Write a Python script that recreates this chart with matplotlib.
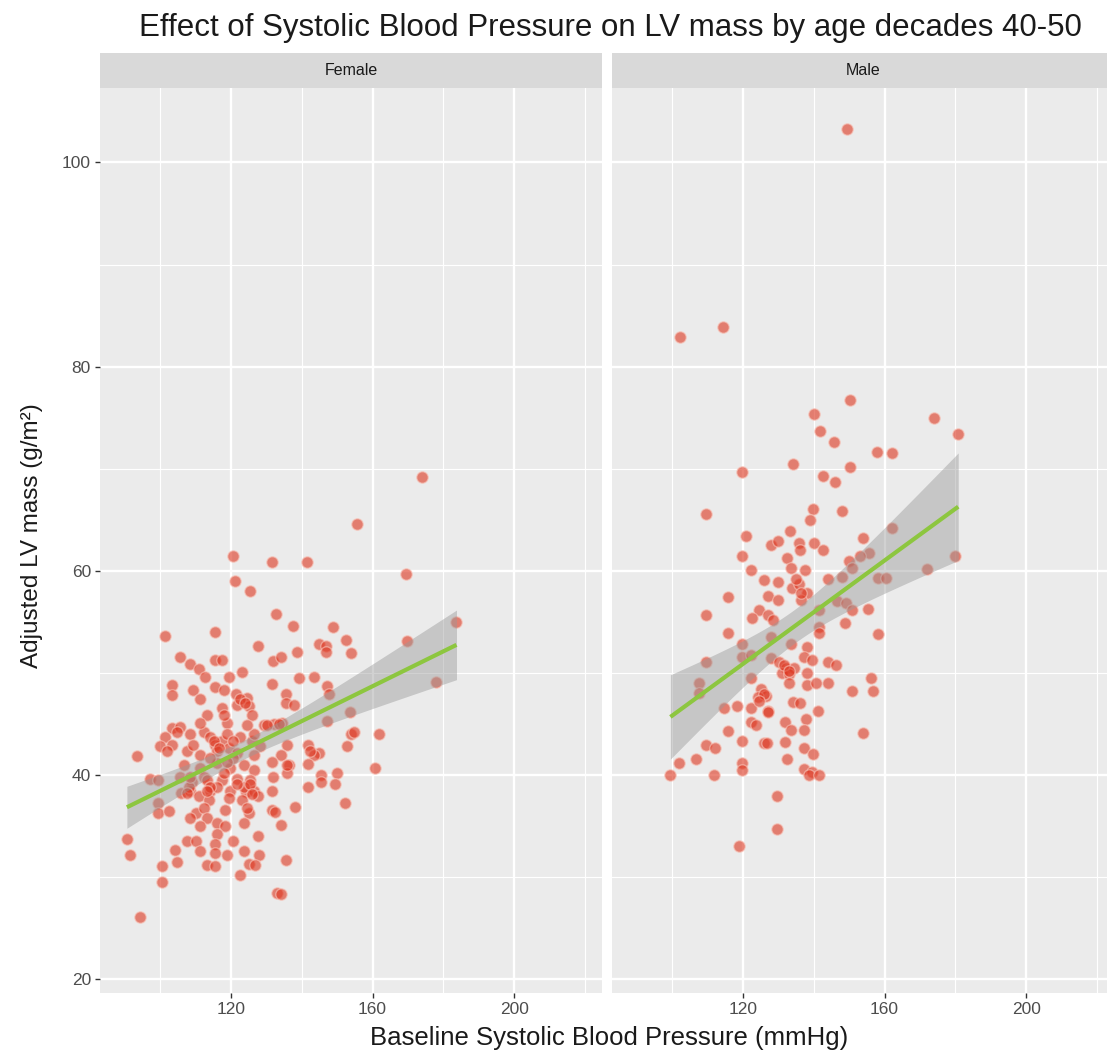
import numpy as np
import matplotlib
matplotlib.use("Agg")
import matplotlib.pyplot as plt
from matplotlib.ticker import FixedLocator

plt.rcParams['font.family'] = ['Liberation Sans', 'DejaVu Sans']

# ---------------- data ----------------
title = "Effect of Systolic Blood Pressure on LV mass by age decades 40-50"
panels = ["Female", "Male"]
x_label = "Baseline Systolic Blood Pressure (mmHg)"
y_label = "Adjusted LV mass (g/m²)"
x_ticks = [120, 160, 200]
y_ticks = [20, 40, 60, 80, 100]

female_sbp = [174, 155.5, 120.6, 131.6, 141.5, 169.5, 121.2, 125.5, 132.7, 137.5, 148.8, 183.7, 101.5, 115.6,
              127.5, 152.6, 145, 146.8, 169.6, 154, 146.8, 177.8, 105.7, 108.3, 111, 115.6, 117.5, 123.1, 131.9,
              134, 138.7, 119.3, 112.7, 139.3, 143.4, 131.6, 103.3, 103.3, 109.4, 115.6, 118, 121.5, 124.5, 135.4,
              147.2, 147.6, 135.4, 137.7, 111.3, 121.7, 125, 113.2, 117.5, 126, 118.9, 153.6, 147.2, 129.2, 132.1,
              134.4, 103.3, 105.7, 112.3, 108.5, 101.4, 114.2, 117.5, 122.6, 126, 153.8, 154.7, 161.8, 152.8, 100,
              103.3, 115.6, 119.3, 128.3, 135.8, 141.7, 93.4, 107.5, 111.3, 116, 121.7, 126.4, 134, 144.8, 143.4,
              106.6, 111.3, 116, 119.8, 123.6, 126.4, 131.6, 136.3, 141.7, 160.8, 97.2, 99.5, 105.7, 109, 112.3,
              117.5, 121.7, 125.5, 132, 145.3, 150, 145.3, 149.5, 141.7, 106, 108.5, 114.2, 116, 119.8, 124.1,
              126.4, 131.6, 99.5, 111, 113.8, 119.4, 123.2, 127.5, 152.3, 99.5, 102.4, 110, 112.3, 118.3, 125,
              131.6, 132.5, 138.2, 108.5, 113.2, 123.6, 116, 118.4, 134.2, 127.5, 116, 90.6, 107.5, 110, 115.6,
              120.7, 104.2, 111.3, 115.6, 119, 123.6, 127.8, 135.5, 91.5, 100.5, 104.7, 113.2, 115.6, 125, 126.9,
              122.6, 100.5, 133, 134, 94.3, 114.2, 118, 120.7, 123.6, 113.2, 126.4, 119, 124.5, 111.3, 109.4,
              120.7, 114.2, 135.8, 124.5, 108, 101.9,
              130.2, 133.5, 122.6, 124, 115.1, 116.5, 125.5, 126, 113.2, 108.5, 104.7, 118, 121.7, 118.9,
              135.8, 142.3, 107.5, 111.3]
female_lvm = [69.2, 64.6, 61.4, 60.8, 60.8, 59.7, 59.0, 58.0, 55.7, 54.6, 54.5, 55.0, 53.6, 54.0,
              52.6, 53.2, 52.8, 52.6, 53.1, 51.9, 52.0, 49.1, 51.5, 50.8, 50.4, 51.2, 51.2, 50.1, 51.1,
              51.5, 52.0, 49.6, 49.6, 49.5, 49.6, 48.9, 48.8, 47.8, 48.3, 48.6, 48.3, 47.9, 47.5, 47.9,
              48.7, 47.9, 47.0, 46.8, 47.4, 46.8, 46.7, 45.8, 46.5, 45.8, 45.1, 46.1, 45.3, 44.9, 45.0,
              45.1, 44.6, 44.7, 44.2, 44.0, 43.7, 43.7, 43.3, 43.7, 43.3, 44.0, 44.2, 44.0, 42.8, 42.8,
              42.9, 42.9, 42.6, 42.8, 42.9, 42.9, 41.8, 42.3, 41.9, 42.3, 42.1, 41.9, 41.9, 42.1, 41.9,
              40.9, 40.7, 41.1, 40.7, 40.9, 40.5, 41.2, 40.9, 41.0, 40.7, 39.6, 39.5, 39.8, 39.3, 39.8,
              39.5, 39.6, 39.5, 39.8, 40.0, 40.2, 39.3, 39.1, 38.8, 38.2, 38.4, 38.4, 38.8, 38.4, 38.3,
              38.4, 38.4, 37.2, 37.9, 37.5, 37.7, 37.5, 37.9, 37.2, 36.2, 36.4, 36.2, 36.7, 36.5, 36.2,
              36.5, 36.3, 36.8, 35.8, 35.8, 35.3, 35.3, 35.0, 35.1, 34.0, 34.2, 33.7, 33.5, 33.5, 33.2,
              33.5, 32.6, 32.5, 32.3, 32.1, 32.5, 32.1, 31.6, 32.1, 31.0, 31.4, 31.1, 31.0, 31.2, 31.1,
              30.2, 29.5, 28.4, 28.3, 26.0, 41.6, 40.2, 41.6, 38.8, 39.5, 44.0, 44.0, 44.9, 45.1, 42.9,
              43.3, 38.8, 40.2, 36.7, 38.8, 42.3,
              44.9, 45.0, 47.4, 47.0, 43.3, 42.6, 39.1, 38.1, 38.4, 39.8, 44.2, 45.8, 39.1, 41.2,
              40.9, 42.3, 38.2, 35.0]

male_sbp = [149.4, 102.2, 114.4, 150.2, 140.1, 173.9, 141.7, 180.8, 145.8, 157.8, 162, 134, 150.2, 119.8,
            142.6, 146, 139.8, 148.1, 139, 109.6, 162, 120.8, 133.2, 153.8, 127.8, 130, 135.8, 140.1, 142.5,
            136.1, 119.8, 155.7, 179.9, 132.5, 150, 153, 122.2, 133.5, 137.5, 171.9, 150.8, 125.9, 130, 143.9,
            148.1, 158, 160.4, 133.8, 135.8, 138.2, 115.8, 127, 129.8, 136.4, 141.4, 146.6, 149, 150.9, 155.4,
            124.5, 127, 109.6, 122.6, 128.4, 148.9, 141.4, 141.4, 115.8, 158, 127.8, 119.8, 133.5, 138.2,
            137.3, 119.8, 122.2, 127.8, 130.2, 139.6, 143.9, 146.2, 109.6, 132.1, 134.4, 131.1, 138.2, 133,
            156.1, 122.2, 107.5, 133, 138.2, 140.6, 144.1, 125, 126.4, 150.9, 156.8, 107.5, 124.1, 134.2,
            136.1, 114.6, 118.2, 122.2, 127, 141.1, 137.7, 122.2, 123.6, 131.9, 133.5, 137.3, 115.9, 153.8,
            119.8, 125.9, 126.8, 131.9, 109.6, 112, 137.3, 139.9, 106.6, 101.9, 119.8, 132.5, 119.8, 137.3,
            139.4, 138.7, 141.4, 99.5, 111.8, 129.7, 129.7, 118.9,
            131.6, 133, 126, 124.6, 127, 135, 136.4]
male_lvm = [103.3, 82.9, 83.9, 76.7, 75.3, 75.0, 73.7, 73.4, 72.6, 71.6, 71.5, 70.4, 70.2, 69.7,
            69.3, 68.7, 66.0, 65.8, 65.0, 65.5, 64.2, 63.4, 63.9, 63.2, 62.5, 62.9, 62.7, 62.7, 62.0,
            62.0, 61.4, 61.7, 61.4, 61.2, 60.9, 61.4, 60.1, 60.3, 60.1, 60.2, 60.3, 59.1, 58.9, 59.2,
            59.4, 59.3, 59.3, 58.3, 58.7, 57.8, 57.4, 57.5, 57.1, 57.1, 56.1, 57.0, 56.8, 56.1, 56.2,
            56.1, 55.6, 55.6, 55.4, 55.2, 54.9, 54.5, 53.9, 53.9, 53.8, 53.5, 52.8, 52.8, 52.5,
            51.5, 51.5, 51.7, 51.4, 51.0, 51.2, 51.0, 50.7, 51.0, 50.5, 50.5, 50.0, 50.0, 49.9,
            49.5, 49.5, 49.0, 49.0, 48.8, 49.0, 49.0, 48.4, 47.7, 48.2, 48.2, 48.0, 47.6, 47.1,
            47.0, 46.5, 46.7, 46.5, 46.2, 46.2, 45.5, 45.2, 44.9, 45.2, 44.4, 44.4, 44.3, 44.1,
            43.3, 43.1, 43.1, 43.2, 42.9, 42.6, 42.6, 42.0, 41.5, 41.1, 41.1, 41.5, 40.5, 40.6,
            40.3, 40.0, 40.0, 40.0, 40.0, 37.9, 34.7, 33.0,
            50.7, 50.2, 47.9, 47.2, 46.1, 59.2, 57.8]

series = {"Female": (female_sbp, female_lvm), "Male": (male_sbp, male_lvm)}

# ---------------- styling ----------------
W, H = 1107, 1054
fig = plt.figure(figsize=(W / 100, H / 100), dpi=100)
fig.patch.set_facecolor("white")

PANEL_BG = "#EBEBEB"
STRIP_BG = "#D9D9D9"
POINT_COL = "#DE3A24"
LINE_COL = "#8DC63F"

panel_left = [100, 612]
panel_w = 502
panel_top, panel_bot = 88, 993
strip_top = 53


def fx(px):
    return px / W


def fy(py):
    return 1 - py / H


def ols_band(x, y, n_pts=80, tval=1.97):
    x = np.asarray(x, float)
    y = np.asarray(y, float)
    n = len(x)
    xm, ym = x.mean(), y.mean()
    sxx = np.sum((x - xm) ** 2)
    b = np.sum((x - xm) * (y - ym)) / sxx
    a = ym - b * xm
    resid = y - (a + b * x)
    s = np.sqrt(np.sum(resid ** 2) / (n - 2))
    xs = np.linspace(x.min(), x.max(), n_pts)
    yh = a + b * xs
    se = s * np.sqrt(1 / n + (xs - xm) ** 2 / sxx)
    return xs, yh, yh - tval * se, yh + tval * se


for i, name in enumerate(panels):
    x, y = series[name]
    ax = fig.add_axes([fx(panel_left[i]), fy(panel_bot), fx(panel_w), (panel_bot - panel_top) / H])
    ax.set_facecolor(PANEL_BG)
    ax.set_xlim(83.0, 224.8)
    ax.set_ylim(18.6, 107.3)
    ax.xaxis.set_major_locator(FixedLocator(x_ticks))
    ax.xaxis.set_minor_locator(FixedLocator([100, 140, 180, 220]))
    ax.yaxis.set_major_locator(FixedLocator(y_ticks))
    ax.yaxis.set_minor_locator(FixedLocator([30, 50, 70, 90]))
    ax.grid(which="major", color="white", linewidth=1.7, zorder=0)
    ax.grid(which="minor", color="white", linewidth=0.8, zorder=0)
    ax.set_axisbelow(True)
    for sp in ax.spines.values():
        sp.set_visible(False)
    ax.tick_params(which="minor", length=0)
    ax.tick_params(which="major", length=3.5, width=1.0, color="#333333",
                   labelcolor="#4D4D4D", labelsize=12.5, pad=3)
    if i > 0:
        ax.tick_params(axis="y", which="both", left=False, labelleft=False)

    ax.scatter(x, y, s=68, facecolor=POINT_COL, alpha=0.62, edgecolor="#F7C3B8",
               linewidth=1.0, zorder=3)
    xs, yh, lo, hi = ols_band(x, y)
    ax.fill_between(xs, lo, hi, color="#999999", alpha=0.45, linewidth=0, zorder=4)
    ax.plot(xs, yh, color=LINE_COL, linewidth=3.0, zorder=5, solid_capstyle="butt")

    # strip
    sax = fig.add_axes([fx(panel_left[i]), fy(panel_top), fx(panel_w), (panel_top - strip_top) / H])
    sax.set_facecolor(STRIP_BG)
    sax.set_xticks([])
    sax.set_yticks([])
    for sp in sax.spines.values():
        sp.set_visible(False)
    sax.text(251 / panel_w, 0.5, name, transform=sax.transAxes, ha="center", va="center",
             fontsize=11.5, color="#1A1A1A")

fig.text(fx(610), fy(28), title, ha="center", va="center", fontsize=22.5, color="#1A1A1A")
fig.text(fx(609), fy(1038), x_label, ha="center", va="center", fontsize=18.5, color="#1A1A1A")
fig.text(fx(32), fy(536), y_label, ha="center", va="center", rotation=90, fontsize=17.5,
         color="#1A1A1A")

fig.savefig("out.png", dpi=100)
